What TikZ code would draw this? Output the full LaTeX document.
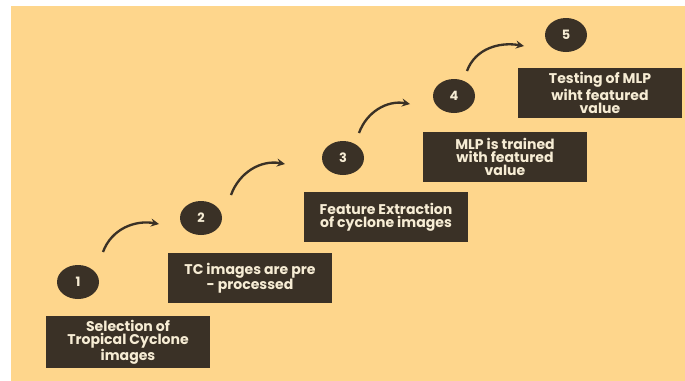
\documentclass[tikz,border=0pt]{standalone}
\usepackage{fontspec}
\setmainfont{Poppins}
\usetikzlibrary{shapes.geometric, arrows}
\definecolor{peach}{RGB}{254,214,140}
\definecolor{darkbrown}{RGB}{58,49,38}
\definecolor{cream}{RGB}{246,236,212}
\tikzstyle{arrow} = [line width=2pt, ->, >=stealth, draw=darkbrown]
\tikzstyle{block} = [rectangle, minimum width=4.9cm, minimum height=1.5cm, text centered, align=center, fill=darkbrown, text=cream, font=\bfseries\fontsize{12}{11}\selectfont]
\tikzstyle{stepnum} = [ellipse, minimum width=1.26cm, minimum height=1.02cm, inner sep=0pt, fill=darkbrown, text=cream, font=\bfseries\fontsize{11}{11}\selectfont]

\begin{document}
\begin{tikzpicture}[x=0.03cm, y=-0.03cm]
		\useasboundingbox (0,0) rectangle (685,380);
		\fill[white] (0,0) rectangle (685,380);
		\fill[peach] (11,6) rectangle (686,381);
		\node(c1) [stepnum] at (78,282) {1};
		\node(c2) [stepnum] at (201,218) {2};
		\node(c3) [stepnum] at (343,158) {3};
		\node(c4) [stepnum] at (454,96) {4};
		\node(c5) [stepnum] at (566,35) {5};
		\node(b1) [block] at (128,342) {Selection of\\Tropical Cyclone\\images};
		\node(b2) [block] at (250,278) {TC images are pre\\- processed};
		\node(b3) [block] at (386,217) {Feature Extraction\\of cyclone images};
		\node(b4) [block] at (505,157) {MLP is trained\\with featured\\value};
		\node(b5) [block] at (600,93) {Testing of MLP\\wiht featured\\value};
		\draw [arrow] ([shift={(25,-30)}]c1.center) to[out=70,in=170] ([shift={(-42,6)}]c2.center);
		\draw [arrow] ([shift={(30,-23)}]c2.center) to[out=70,in=170] ([shift={(-58,6)}]c3.center);
		\draw [arrow] ([shift={(16,-25)}]c3.center) to[out=70,in=170] ([shift={(-44,8)}]c4.center);
		\draw [arrow] ([shift={(13,-25)}]c4.center) to[out=70,in=170] ([shift={(-42,11)}]c5.center);
	\end{tikzpicture}
\end{document}
